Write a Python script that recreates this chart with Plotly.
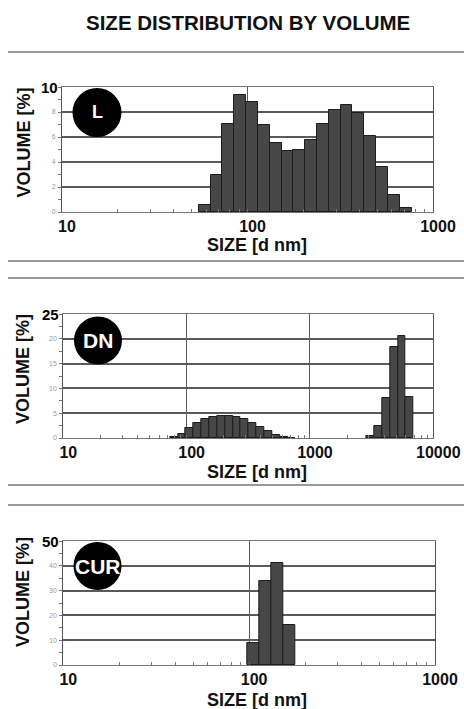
import plotly.graph_objects as go

W, H = 464, 709

# ---------------- data ----------------
title_text = "SIZE DISTRIBUTION BY VOLUME"
x_title = "SIZE [d nm]"
y_title = "VOLUME [%]"

l_sizes = [58.77, 68.06, 78.82, 91.28, 105.7, 122.4, 141.8, 164.2, 190.1,
           220.2, 255.0, 295.3, 342.0, 396.1, 458.7, 531.2, 615.1, 712.4]
l_volume = [0.53, 3.0, 7.04, 9.36, 8.8, 7.0, 5.5, 4.88, 4.99,
            5.8, 7.04, 8.19, 8.59, 7.89, 6.1, 3.6, 1.33, 0.29]

dn_sizes = [78.82, 91.28, 105.7, 122.4, 141.8, 164.2, 190.1, 220.2, 255.0,
            295.3, 342.0, 396.1, 458.7, 531.2, 615.1, 712.4,
            3091, 3580, 4145, 4801, 5560, 6439]
dn_volume = [0.13, 0.74, 1.95, 3.1, 3.9, 4.3, 4.37, 4.37, 4.3,
             3.83, 3.1, 2.28, 1.41, 0.67, 0.27, 0.07,
             0.4, 2.35, 8.0, 18.4, 20.6, 8.27]

cur_sizes = [105.7, 122.4, 141.8, 164.2]
cur_volume = [9.0, 33.8, 41.2, 16.2]

bin_ratio = 1.1581  # size-class ratio of the instrument (log-spaced classes)

panel_labels = ["L", "DN", "CUR"]
y_max = [10, 25, 50]
y_step = [2, 5, 10]
x_decades = [(1, 3), (1, 4), (1, 3)]

# ---------------- layout helpers ----------------
def fx(px):
    return px / W

def fy(py):
    return 1 - py / H

# plot areas in pixels: (left, right, top, bottom)
areas = [(62, 433, 87, 212), (63.3, 433.3, 314, 438), (63.3, 435, 541, 665)]
ytitle_y = [142.5, 369, 592]
xtitle_y = [245, 472, 700]
circles = [(97, 112.5, 24.5, 18), (98, 340.5, 24, 21), (97.5, 566, 24, 21)]

FONT = "Liberation Sans, Arial, sans-serif"
BAR_FILL = "#474747"
BAR_LINE = "#1c1c1c"
GRID = "#5a5a5a"

fig = go.Figure()

series = [(l_sizes, l_volume), (dn_sizes, dn_volume), (cur_sizes, cur_volume)]
shapes = []
annotations = []
half = bin_ratio ** 0.5

for i, ((xs, ys), (l, r, t, b)) in enumerate(zip(series, areas)):
    n = "" if i == 0 else str(i + 1)
    xa, ya = "x" + n, "y" + n
    # each bar spans its size class [x/sqrt(r), x*sqrt(r)] on the log axis
    widths = [v * (half - 1 / half) for v in xs]
    offsets = [v / half - v for v in xs]
    fig.add_trace(go.Bar(x=xs, y=ys, width=widths, offset=offsets,
                         xaxis=xa, yaxis=ya,
                         marker=dict(color=BAR_FILL, line=dict(color=BAR_LINE, width=1)),
                         showlegend=False, hoverinfo="x+y"))
    lo, hi = x_decades[i]
    xticks = [10 ** k for k in range(lo, hi + 1)]
    fig.layout["xaxis" + n] = dict(
        type="log", range=[lo, hi], domain=[fx(l), fx(r)], anchor=ya,
        tickvals=xticks, ticktext=[str(v) for v in xticks],
        tickfont=dict(family=FONT, size=16, color="#111", weight="bold"),
        ticks="inside", ticklen=3, tickcolor="#666",
        minor=dict(ticks="inside", ticklen=3, tickcolor="#777", showgrid=False,
                   dtick="D1"),
        showgrid=True, gridcolor=GRID, gridwidth=1,
        showline=True, linecolor="#777", linewidth=1, mirror=True,
        zeroline=False, ticklabelstandoff=0, ticklabelshift=5,
        fixedrange=True, automargin=False)
    ymax, ystep = y_max[i], y_step[i]
    yvals = list(range(0, ymax + 1, ystep))
    fig.layout["yaxis" + n] = dict(
        range=[0, ymax], domain=[fy(b), fy(t)], anchor=xa,
        tickvals=yvals, ticktext=[str(v) for v in yvals[:-1]] + [""],
        tickfont=dict(family=FONT, size=7, color="#9a9a9a"),
        ticks="outside", ticklen=3, tickcolor="#777",
        minor=dict(ticks="outside", ticklen=3, tickcolor="#777",
                   dtick=ystep / 2, showgrid=False),
        showgrid=True, gridcolor=GRID, gridwidth=1.5,
        showline=True, linecolor="#555", linewidth=1, mirror=True,
        zeroline=False, ticklabelstandoff=1, fixedrange=True, automargin=False)
    # big top y label
    annotations.append(dict(text="<b>%d</b>" % ymax, xref="paper", yref=ya,
                            x=fx(l - 2), y=ymax, xanchor="right", yanchor="middle",
                            showarrow=False,
                            font=dict(family=FONT, size=15, color="#000")))
    # axis titles
    annotations.append(dict(text="<b>%s</b>" % y_title, xref="paper", yref="paper",
                            x=fx(23), y=fy(ytitle_y[i]), xanchor="center", yanchor="middle",
                            textangle=-90, showarrow=False,
                            font=dict(family=FONT, size=18, color="#111")))
    annotations.append(dict(text="<b>%s</b>" % x_title, xref="paper", yref="paper",
                            x=fx(257), y=fy(xtitle_y[i]), xanchor="center", yanchor="middle",
                            showarrow=False,
                            font=dict(family=FONT, size=18, color="#111")))
    # panel label circle
    cx, cy, rad, fs = circles[i]
    shapes.append(dict(type="circle", xref="paper", yref="paper",
                       x0=fx(cx - rad), x1=fx(cx + rad), y0=fy(cy + rad), y1=fy(cy - rad),
                       fillcolor="#000", line=dict(color="#000", width=0), layer="above"))
    annotations.append(dict(text="<b>%s</b>" % panel_labels[i], xref="paper", yref="paper",
                            x=fx(cx), y=fy(cy), xanchor="center", yanchor="middle",
                            showarrow=False,
                            font=dict(family=FONT, size=fs, color="#fff")))

# separators
for py in [52, 261, 278, 485, 505]:
    shapes.append(dict(type="line", xref="paper", yref="paper",
                       x0=fx(8), x1=1, y0=fy(py), y1=fy(py),
                       line=dict(color="#9a9a9a", width=2)))

annotations.append(dict(text="<b>%s</b>" % title_text, xref="paper", yref="paper",
                        x=fx(248), y=fy(23), xanchor="center", yanchor="middle",
                        showarrow=False,
                        font=dict(family=FONT, size=20.5, color="#111")))

fig.update_layout(width=W, height=H, autosize=False,
                  margin=dict(l=0, r=0, t=0, b=0, pad=0),
                  paper_bgcolor="#fff", plot_bgcolor="#fff",
                  bargap=0, shapes=shapes, annotations=annotations,
                  showlegend=False)

fig.write_html("out.html", config={"displayModeBar": False, "responsive": False},
               post_script="document.body.style.margin='0px';"
                           "document.documentElement.style.overflow='hidden';")
